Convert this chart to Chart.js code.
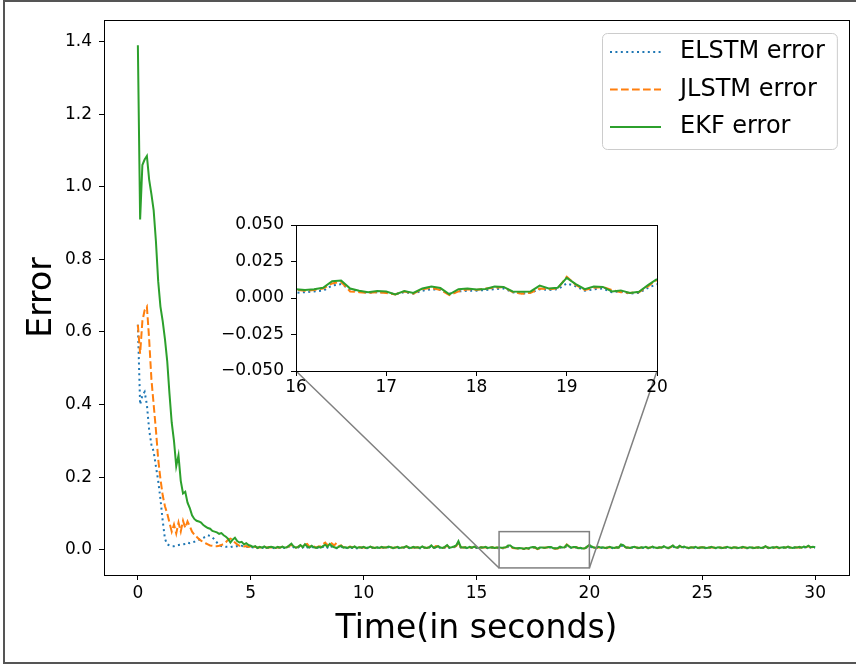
<!DOCTYPE html>
<html>
<head>
<meta charset="utf-8">
<script src="https://cdn.jsdelivr.net/npm/chart.js"></script>
<style>
  html, body { margin: 0; padding: 0; background: #fff; }
  #wrap { position: relative; width: 856px; height: 666px; }
  #main { position: absolute; left: 0; top: 0; }
  #inset { position: absolute; left: 200px; top: 205px; }
</style>
</head>
<body>
<div id="wrap">
  <canvas id="main" width="856" height="666"></canvas>
  <canvas id="inset" width="471" height="202"></canvas>
</div>
<script>
// samples every 0.1 s, from t = 0 to t = 30
const timeStep = 0.1;

const elstmError = [
  0.62, 0.40, 0.425, 0.435, 0.40, 0.33, 0.29, 0.27, 0.23, 0.19,
  0.14, 0.08, 0.03, 0.015, 0.012, 0.01, 0.01, 0.012, 0.013, 0.014,
  0.015, 0.016, 0.02, 0.018, 0.02, 0.022, 0.025, 0.027, 0.03, 0.033,
  0.036, 0.04, 0.038, 0.034, 0.028, 0.02, 0.014, 0.01, 0.009, 0.008,
  0.008, 0.007, 0.009, 0.008, 0.01, 0.009, 0.011, 0.008, 0.009, 0.007,
  0.008, 0.006, 0.007, 0.005, 0.006, 0.005, 0.007, 0.005, 0.006, 0.005,
  0.005, 0.004, 0.006, 0.005, 0.007, 0.005, 0.006, 0.009, 0.012, 0.007,
  0.005, 0.006, 0.01, 0.006, 0.011, 0.007, 0.005, 0.008, 0.006, 0.004,
  0.006, 0.005, 0.008, 0.011, 0.006, 0.012, 0.008, 0.006, 0.004, 0.006,
  0.009, 0.005, 0.006, 0.004, 0.006, 0.005, 0.007, 0.004, 0.006, 0.005,
  0.006, 0.004, 0.005, 0.007, 0.005, 0.004, 0.006, 0.004, 0.006, 0.005,
  0.005, 0.007, 0.006, 0.004, 0.005, 0.006, 0.004, 0.005, 0.006, 0.008,
  0.005, 0.004, 0.006, 0.005, 0.006, 0.004, 0.007, 0.005, 0.004, 0.006,
  0.009, 0.005, 0.006, 0.008, 0.005, 0.004, 0.006, 0.01, 0.005, 0.006,
  0.007, 0.009, 0.018, 0.006, 0.005, 0.006, 0.004, 0.006, 0.005, 0.007,
  0.005, 0.004, 0.006, 0.005, 0.006, 0.004, 0.005, 0.006, 0.004, 0.005,
  0.0035, 0.004, 0.0045, 0.005, 0.0085, 0.0095, 0.006, 0.0045, 0.0035, 0.004,
  0.004, 0.0025, 0.004, 0.003, 0.005, 0.006, 0.0055, 0.003, 0.0045, 0.005,
  0.005, 0.0055, 0.006, 0.0065, 0.004, 0.003, 0.0035, 0.006, 0.0055, 0.006,
  0.01, 0.008, 0.005, 0.006, 0.0065, 0.004, 0.0045, 0.003, 0.0035, 0.007,
  0.0095, 0.007, 0.005, 0.004, 0.006, 0.005, 0.006, 0.004, 0.005, 0.006,
  0.005, 0.004, 0.006, 0.005, 0.011, 0.01, 0.006, 0.005, 0.004, 0.006,
  0.006, 0.005, 0.004, 0.006, 0.005, 0.006, 0.004, 0.005, 0.007, 0.005,
  0.004, 0.006, 0.005, 0.008, 0.005, 0.004, 0.006, 0.009, 0.006, 0.005,
  0.008, 0.006, 0.007, 0.005, 0.004, 0.006, 0.005, 0.006, 0.004, 0.005,
  0.006, 0.005, 0.004, 0.005, 0.006, 0.005, 0.004, 0.006, 0.005, 0.004,
  0.005, 0.006, 0.005, 0.004, 0.006, 0.005, 0.004, 0.005, 0.006, 0.005,
  0.004, 0.006, 0.005, 0.004, 0.005, 0.006, 0.004, 0.005, 0.008, 0.005,
  0.004, 0.006, 0.005, 0.006, 0.004, 0.005, 0.006, 0.005, 0.007, 0.005,
  0.004, 0.006, 0.005, 0.006, 0.005, 0.007, 0.006, 0.009, 0.006, 0.007,
  0.006
];

const jlstmError = [
  0.62, 0.54, 0.63, 0.66, 0.67, 0.58, 0.47, 0.40, 0.33, 0.25,
  0.195, 0.15, 0.12, 0.1, 0.075, 0.05, 0.07, 0.045, 0.075, 0.05,
  0.08, 0.06, 0.078, 0.065, 0.05, 0.042, 0.036, 0.03, 0.025, 0.021,
  0.018, 0.015, 0.012, 0.011, 0.01, 0.01, 0.011, 0.013, 0.016, 0.021,
  0.028, 0.031, 0.027, 0.02, 0.015, 0.011, 0.012, 0.009, 0.01, 0.008,
  0.009, 0.007, 0.008, 0.006, 0.007, 0.006, 0.008, 0.006, 0.007, 0.006,
  0.006, 0.005, 0.007, 0.006, 0.008, 0.006, 0.007, 0.01, 0.014, 0.008,
  0.006, 0.008, 0.012, 0.009, 0.014, 0.016, 0.008, 0.012, 0.009, 0.006,
  0.009, 0.01, 0.016, 0.02, 0.012, 0.021, 0.017, 0.012, 0.019, 0.01,
  0.012, 0.007, 0.008, 0.006, 0.009, 0.007, 0.008, 0.006, 0.007, 0.006,
  0.007, 0.005, 0.006, 0.008, 0.006, 0.005, 0.007, 0.005, 0.007, 0.006,
  0.006, 0.008, 0.007, 0.005, 0.006, 0.007, 0.005, 0.006, 0.007, 0.009,
  0.006, 0.005, 0.007, 0.006, 0.007, 0.005, 0.008, 0.006, 0.005, 0.007,
  0.01, 0.006, 0.01, 0.009, 0.007, 0.005, 0.007, 0.011, 0.006, 0.007,
  0.008, 0.01, 0.02, 0.007, 0.006, 0.007, 0.005, 0.007, 0.006, 0.008,
  0.006, 0.005, 0.007, 0.006, 0.007, 0.005, 0.006, 0.007, 0.005, 0.006,
  0.0055, 0.005, 0.0055, 0.0065, 0.01, 0.011, 0.0045, 0.004, 0.0035, 0.004,
  0.0035, 0.0025, 0.0045, 0.003, 0.006, 0.007, 0.0055, 0.002, 0.0045, 0.006,
  0.0055, 0.0065, 0.007, 0.0075, 0.004, 0.003, 0.0035, 0.0065, 0.006, 0.0065,
  0.0145, 0.009, 0.0055, 0.007, 0.0075, 0.0055, 0.004, 0.0035, 0.004, 0.008,
  0.0125, 0.008, 0.006, 0.005, 0.007, 0.006, 0.006, 0.005, 0.006, 0.007,
  0.006, 0.005, 0.006, 0.006, 0.013, 0.012, 0.007, 0.006, 0.005, 0.006,
  0.007, 0.006, 0.005, 0.006, 0.006, 0.007, 0.005, 0.006, 0.008, 0.006,
  0.005, 0.006, 0.006, 0.009, 0.006, 0.005, 0.007, 0.011, 0.007, 0.006,
  0.01, 0.007, 0.008, 0.006, 0.005, 0.006, 0.006, 0.007, 0.005, 0.006,
  0.007, 0.006, 0.005, 0.006, 0.007, 0.006, 0.005, 0.006, 0.006, 0.005,
  0.006, 0.007, 0.006, 0.005, 0.006, 0.006, 0.005, 0.006, 0.007, 0.006,
  0.005, 0.006, 0.006, 0.005, 0.006, 0.006, 0.005, 0.006, 0.009, 0.006,
  0.005, 0.006, 0.006, 0.007, 0.005, 0.006, 0.006, 0.006, 0.008, 0.006,
  0.005, 0.006, 0.006, 0.007, 0.006, 0.008, 0.007, 0.01, 0.007, 0.007,
  0.007
];

const ekfError = [
  1.39, 0.91, 1.06, 1.075, 1.085, 1.02, 0.98, 0.935, 0.85, 0.74,
  0.67, 0.63, 0.58, 0.52, 0.43, 0.35, 0.30, 0.23, 0.26, 0.19,
  0.155, 0.16, 0.13, 0.115, 0.095, 0.085, 0.08, 0.078, 0.075, 0.068,
  0.064, 0.06, 0.058, 0.052, 0.05, 0.048, 0.044, 0.046, 0.04, 0.036,
  0.03, 0.02, 0.028, 0.033, 0.024, 0.02, 0.022, 0.015, 0.018, 0.013,
  0.011, 0.008, 0.01, 0.005, 0.008, 0.006, 0.009, 0.005, 0.007, 0.008,
  0.007, 0.005, 0.008, 0.006, 0.009, 0.006, 0.007, 0.012, 0.017, 0.009,
  0.006, 0.008, 0.013, 0.007, 0.015, 0.009, 0.006, 0.011, 0.007, 0.005,
  0.008, 0.006, 0.01, 0.014, 0.008, 0.016, 0.01, 0.007, 0.005, 0.008,
  0.011, 0.006, 0.007, 0.005, 0.008, 0.006, 0.009, 0.005, 0.007, 0.006,
  0.008, 0.005, 0.006, 0.009, 0.006, 0.005, 0.007, 0.005, 0.008, 0.006,
  0.006, 0.009, 0.007, 0.005, 0.006, 0.008, 0.005, 0.006, 0.007, 0.01,
  0.006, 0.005, 0.008, 0.006, 0.007, 0.005, 0.009, 0.006, 0.005, 0.007,
  0.012, 0.006, 0.007, 0.01, 0.006, 0.005, 0.008, 0.013, 0.006, 0.007,
  0.009, 0.012, 0.024, 0.008, 0.006, 0.007, 0.005, 0.008, 0.006, 0.009,
  0.006, 0.005, 0.007, 0.006, 0.008, 0.005, 0.006, 0.007, 0.005, 0.006,
  0.006, 0.0055, 0.006, 0.007, 0.0115, 0.012, 0.0065, 0.005, 0.004, 0.0048,
  0.0045, 0.0025, 0.0048, 0.0035, 0.0065, 0.0078, 0.0068, 0.0025, 0.006, 0.0065,
  0.0058, 0.0062, 0.0078, 0.0076, 0.0045, 0.0042, 0.0045, 0.0085, 0.0065, 0.007,
  0.0138, 0.0095, 0.006, 0.0078, 0.0076, 0.0045, 0.0052, 0.0035, 0.0042, 0.0088,
  0.013, 0.009, 0.006, 0.005, 0.008, 0.006, 0.007, 0.005, 0.006, 0.008,
  0.006, 0.005, 0.007, 0.006, 0.015, 0.013, 0.007, 0.006, 0.005, 0.007,
  0.008, 0.006, 0.005, 0.007, 0.006, 0.008, 0.005, 0.006, 0.009, 0.006,
  0.005, 0.007, 0.006, 0.01, 0.006, 0.005, 0.008, 0.012, 0.007, 0.006,
  0.011, 0.007, 0.009, 0.006, 0.005, 0.007, 0.006, 0.008, 0.005, 0.006,
  0.007, 0.006, 0.005, 0.006, 0.008, 0.006, 0.005, 0.007, 0.006, 0.005,
  0.006, 0.008, 0.006, 0.005, 0.007, 0.006, 0.005, 0.006, 0.008, 0.006,
  0.005, 0.007, 0.006, 0.005, 0.006, 0.007, 0.005, 0.006, 0.01, 0.006,
  0.005, 0.007, 0.006, 0.008, 0.005, 0.006, 0.007, 0.006, 0.009, 0.006,
  0.005, 0.007, 0.006, 0.008, 0.006, 0.009, 0.007, 0.011, 0.007, 0.008,
  0.007
];

const seriesLabels = ['ELSTM error', 'JLSTM error', 'EKF error'];
const xTicks = [0, 5, 10, 15, 20, 25, 30];
const yTicks = [0, 0.2, 0.4, 0.6, 0.8, 1.0, 1.2, 1.4];
const insetXTicks = [16, 17, 18, 19, 20];
const insetYTicks = [-0.05, -0.025, 0, 0.025, 0.05];
const zoomX = [16, 20];
const zoomY = [-0.05, 0.05];

Chart.defaults.font.family = '"DejaVu Sans", sans-serif';
Chart.defaults.color = '#000';

const lineColors = ['#1f77b4', '#ff7f0e', '#2ca02c'];
const lineDashes = [[2, 3.4], [7.7, 3.3], []];

function toPoints(vals) {
  return vals.map((v, i) => ({ x: Math.round(i * timeStep * 10) / 10, y: v }));
}

function makeDatasets() {
  return [elstmError, jlstmError, ekfError].map((vals, i) => ({
    label: seriesLabels[i],
    data: toPoints(vals),
    borderColor: lineColors[i],
    backgroundColor: 'transparent',
    borderDash: lineDashes[i],
    borderWidth: 2,
    pointRadius: 0,
    fill: false,
    tension: 0,
    order: 3 - i   // EKF drawn last, on top
  }));
}

const tickGrid = { drawOnChartArea: false, drawTicks: true, tickLength: 5, color: '#000', lineWidth: 1 };

function setTicks(list) {
  return scale => { scale.ticks = list.map(v => ({ value: v })); };
}

function boxPlugin(id) {
  return {
    id: id,
    beforeDatasetsDraw(chart) {
      if (id !== 'insetFrame') return;
      const a = chart.chartArea, ctx = chart.ctx;
      ctx.save();
      ctx.fillStyle = '#fff';
      ctx.fillRect(a.left, a.top, a.right - a.left, a.bottom - a.top);
      ctx.restore();
    },
    afterDraw(chart) {
      const a = chart.chartArea, ctx = chart.ctx;
      ctx.save();
      ctx.strokeStyle = '#000';
      ctx.lineWidth = 1;
      ctx.strokeRect(Math.round(a.left) + 0.5, Math.round(a.top) + 0.5,
        Math.round(a.right - a.left), Math.round(a.bottom - a.top));
      ctx.restore();
    }
  };
}

const insetLeft = 200, insetTop = 205;

const insetChart = new Chart(document.getElementById('inset'), {
  type: 'line',
  data: { datasets: makeDatasets() },
  options: {
    responsive: false,
    animation: false,
    devicePixelRatio: 1,
    layout: { padding: { top: 20, right: 14, left: 0, bottom: 0 } },
    plugins: { legend: { display: false }, tooltip: { enabled: false } },
    scales: {
      x: {
        type: 'linear', min: zoomX[0], max: zoomX[1],
        afterBuildTicks: setTicks(insetXTicks),
        afterFit: s => { s.height = 36; },
        grid: tickGrid,
        border: { display: false },
        ticks: { font: { size: 17 }, padding: 1, maxRotation: 0, autoSkip: false, callback: v => String(v) }
      },
      y: {
        type: 'linear', min: zoomY[0], max: zoomY[1],
        afterBuildTicks: setTicks(insetYTicks),
        afterFit: s => { s.width = 96; },
        grid: tickGrid,
        border: { display: false },
        ticks: { font: { size: 17 }, padding: 7, autoSkip: false, callback: v => v.toFixed(3).replace('-', '\u2212') }
      }
    }
  },
  plugins: [boxPlugin('insetFrame')]
});

function drawLegend(chart) {
  const ctx = chart.ctx, a = chart.chartArea;
  ctx.save();
  ctx.font = '24px "DejaVu Sans"';
  const textW = Math.max(...seriesLabels.map(t => ctx.measureText(t).width));
  const w = 8 + 51 + 19 + textW + 12;
  const h = 116;
  const x = Math.round(a.right - 12 - w), y = Math.round(a.top + 13);
  ctx.beginPath();
  ctx.roundRect(x + 0.5, y + 0.5, w, h, 5);
  ctx.fillStyle = 'rgba(255,255,255,0.8)';
  ctx.fill();
  ctx.strokeStyle = '#cccccc';
  ctx.lineWidth = 1;
  ctx.stroke();
  chart.data.datasets.forEach((ds, i) => {
    const cy = y + 19 + i * 37.5;
    ctx.beginPath();
    ctx.setLineDash(ds.borderDash);
    ctx.strokeStyle = ds.borderColor;
    ctx.lineWidth = 2;
    ctx.moveTo(x + 8, cy);
    ctx.lineTo(x + 59, cy);
    ctx.stroke();
    ctx.setLineDash([]);
    ctx.fillStyle = '#000';
    ctx.textBaseline = 'middle';
    ctx.fillText(ds.label, x + 78, cy);
  });
  ctx.restore();
}

const mainPlugin = {
  id: 'mainExtras',
  beforeDraw(chart) {
    const ctx = chart.ctx;
    ctx.save();
    ctx.fillStyle = '#fff';
    ctx.fillRect(0, 0, chart.width, chart.height);
    // outer picture frame
    ctx.strokeStyle = '#555';
    ctx.lineWidth = 2;
    ctx.beginPath();
    ctx.moveTo(chart.width, 1);
    ctx.lineTo(4, 1);
    ctx.lineTo(4, 663);
    ctx.lineTo(chart.width, 663);
    ctx.stroke();
    ctx.restore();
  },
  afterDatasetsDraw(chart) {
    const ctx = chart.ctx, xs = chart.scales.x, ys = chart.scales.y;
    const x0 = xs.getPixelForValue(zoomX[0]), x1 = xs.getPixelForValue(zoomX[1]);
    const y0 = ys.getPixelForValue(zoomY[1]), y1 = ys.getPixelForValue(zoomY[0]);
    ctx.save();
    ctx.strokeStyle = '#808080';
    ctx.lineWidth = 1.5;
    ctx.strokeRect(x0, y0, x1 - x0, y1 - y0);
    const ia = insetChart.chartArea;
    ctx.beginPath();
    ctx.moveTo(insetLeft + ia.left, insetTop + ia.bottom);
    ctx.lineTo(x0, y1);
    ctx.moveTo(insetLeft + ia.right, insetTop + ia.bottom);
    ctx.lineTo(x1, y1);
    ctx.stroke();
    ctx.restore();
  },
  afterDraw(chart) {
    drawLegend(chart);
  }
};

const mainChart = new Chart(document.getElementById('main'), {
  type: 'line',
  data: { datasets: makeDatasets() },
  options: {
    responsive: false,
    animation: false,
    devicePixelRatio: 1,
    layout: { padding: { top: 20, right: 7, left: 0, bottom: 0 } },
    plugins: { legend: { display: false }, tooltip: { enabled: false } },
    scales: {
      x: {
        type: 'linear', min: -1.5, max: 31.5,
        afterBuildTicks: setTicks(xTicks),
        afterFit: s => { s.height = 91; },
        grid: tickGrid,
        border: { display: false },
        ticks: { font: { size: 17 }, padding: 3, maxRotation: 0, autoSkip: false, callback: v => String(v) },
        title: { display: true, text: 'Time(in seconds)', font: { size: 33 }, color: '#000', padding: { top: 0, bottom: 17 } }
      },
      y: {
        type: 'linear', min: -0.0695, max: 1.4595,
        afterBuildTicks: setTicks(yTicks),
        afterFit: s => { s.width = 104; },
        grid: tickGrid,
        border: { display: false },
        ticks: { font: { size: 17 }, padding: 7, autoSkip: false, callback: v => v.toFixed(1) },
        title: { display: true, text: 'Error', font: { size: 33 }, color: '#000', padding: { top: 23, bottom: 0 } }
      }
    }
  },
  plugins: [boxPlugin('mainFrame'), mainPlugin]
});
</script>
</body>
</html>
